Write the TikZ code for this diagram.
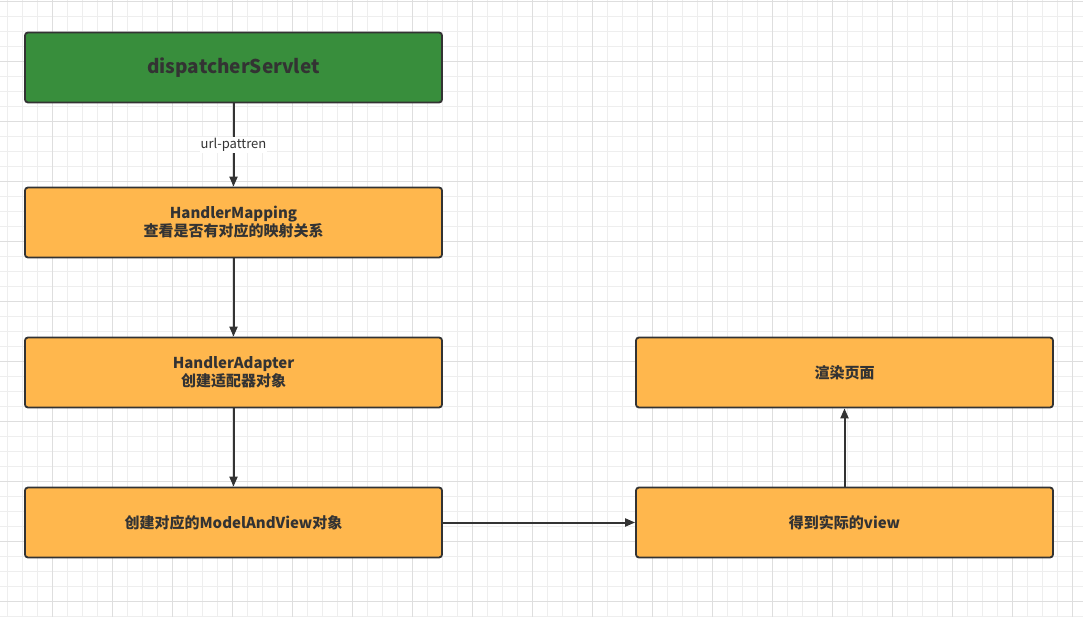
\documentclass[tikz,border=0pt]{standalone}
\usepackage{fontspec}
\setmainfont{Noto Sans CJK SC}
\usepackage{xcolor}
\usetikzlibrary{arrows.meta}
\definecolor{gridminor}{HTML}{EEEEEE}
\definecolor{gridmajor}{HTML}{DEDEDE}
\definecolor{boxgreen}{HTML}{388E3C}
\definecolor{boxorange}{HTML}{FFB74D}
\definecolor{inkgray}{HTML}{333333}

\begin{document}
\begin{tikzpicture}[x=1bp,y=-1bp,>={Triangle[length=10bp,width=8bp]},
  stepbox/.style={draw=inkgray,line width=1.8bp,rounded corners=3bp,
    minimum width=417bp,minimum height=70bp,inner sep=0pt,align=center,
    text=inkgray,font=\fontsize{15bp}{18bp}\selectfont\bfseries},
  flow/.style={->,draw=inkgray,line width=2bp}]
\useasboundingbox (0,0) rectangle (1083,617);
%background grid
\fill[white] (0,0) rectangle (1083,617);
\foreach \x in {7,22,...,1080}
\draw[gridminor,line width=0.8bp] (\x,0) -- (\x,617);
\foreach \y in {1,16,...,616}
\draw[gridminor,line width=0.8bp] (0,\y) -- (1083,\y);
\foreach \x in {52,112,...,1080}
\draw[gridmajor,line width=0.8bp] (\x,0) -- (\x,617);
\foreach \y in {1,61,...,616}
\draw[gridmajor,line width=0.8bp] (0,\y) -- (1083,\y);
%left column
\node[stepbox,fill=boxgreen,font=\fontsize{19bp}{24bp}\selectfont\bfseries,text=black!80] (dispatcher) at (233.5,67.5) {dispatcherServlet};
\node[stepbox,fill=boxorange] (mapping) at (233.5,222.5) {HandlerMapping\\查看是否有对应的映射关系};
\node[stepbox,fill=boxorange] (adapter) at (233.5,372.5) {HandlerAdapter\\创建适配器对象};
\node[stepbox,fill=boxorange] (mav) at (233.5,522.5) {创建对应的ModelAndView对象};
%right column
\node[stepbox,fill=boxorange] (view) at (844.5,522.5) {得到实际的view};
\node[stepbox,fill=boxorange] (render) at (844.5,372.5) {渲染页面};
%arrows
\draw[flow] (dispatcher) -- node[fill=white,inner sep=1bp,text=inkgray,font=\fontsize{13bp}{15bp}\selectfont] {url-pattren} (mapping);
\draw[flow] (mapping) -- (adapter);
\draw[flow] (adapter) -- (mav);
\draw[flow] (mav) -- (view);
\draw[flow] (view) -- (render);
\end{tikzpicture}
\end{document}
